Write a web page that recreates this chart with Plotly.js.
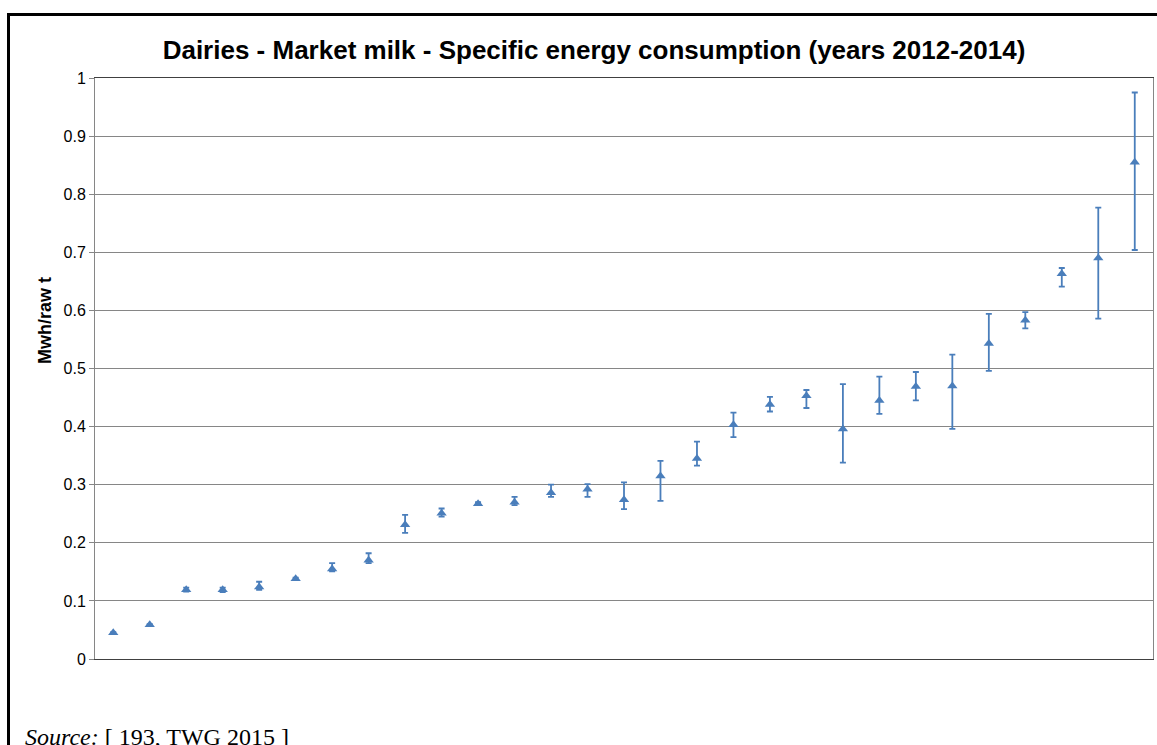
<!DOCTYPE html>
<html>
<head>
<meta charset="utf-8">
<script src="https://cdn.plot.ly/plotly-3.0.1.min.js"></script>
<style>
html,body{margin:0;padding:0;background:#fff;}
#chart{width:1157px;height:745px;}
</style>
</head>
<body>
<div id="chart"></div>
<script>
// Plant index (sorted by value)
var plants = [1,2,3,4,5,6,7,8,9,10,11,12,13,14,15,16,17,18,19,20,21,22,23,24,25,26,27,28,29];
// Mean specific energy consumption (MWh / raw t)
var values = [0.045,0.059,0.119,0.119,0.124,0.138,0.155,0.170,0.231,0.251,0.267,0.270,0.286,0.292,0.274,0.315,0.345,0.403,0.438,0.453,0.396,0.445,0.469,0.470,0.543,0.583,0.663,0.690,0.855];
// Upper end of range (max of 2012-2014)
var upper = [0.046,0.060,0.123,0.123,0.133,0.140,0.165,0.182,0.248,0.259,0.270,0.279,0.300,0.301,0.304,0.341,0.374,0.424,0.451,0.463,0.473,0.486,0.494,0.524,0.594,0.597,0.673,0.777,0.975];
// Lower end of range (min of 2012-2014)
var lower = [0.044,0.058,0.116,0.115,0.119,0.136,0.151,0.165,0.217,0.245,0.265,0.265,0.279,0.279,0.258,0.272,0.333,0.382,0.426,0.432,0.338,0.422,0.445,0.396,0.496,0.569,0.641,0.586,0.704];
var yTicks = [0,0.1,0.2,0.3,0.4,0.5,0.6,0.7,0.8,0.9,1];
var yTickLabels = ['0','0.1','0.2','0.3','0.4','0.5','0.6','0.7','0.8','0.9','1'];

var errPlus = upper.map(function(u,i){return Math.max(0,u-values[i]);});
var errMinus = lower.map(function(l,i){return Math.max(0,values[i]-l);});

var blue = '#4a7ebb';
var trace = {
  x: plants, y: values, type: 'scatter', mode: 'markers',
  marker: {symbol: 'triangle-up', size: 9, color: blue},
  error_y: {type: 'data', symmetric: false, array: errPlus, arrayminus: errMinus,
            color: blue, thickness: 1.8, width: 3},
  hoverinfo: 'y', showlegend: false
};

var W = 1157, H = 745, L = 95, R = 4, T = 78, B = 86;
var pw = W - L - R, ph = H - T - B;
function px(x){return (x - L)/pw;}
function py(y){return (H - B - y)/ph;}

var layout = {
  width: W, height: H,
  margin: {l: L, r: R, t: T, b: B, pad: 0},
  paper_bgcolor: '#ffffff', plot_bgcolor: '#ffffff',
  font: {family: '"Liberation Sans", Arial, sans-serif', color: '#000'},
  title: {text: '<b>Dairies - Market milk - Specific energy consumption (years 2012-2014)</b>',
          font: {family: '"Liberation Sans", Arial, sans-serif', size: 26, color: '#000'},
          xref: 'container', yref: 'container', x: 594/W, y: 1 - 50/H,
          xanchor: 'center', yanchor: 'middle'},
  xaxis: {range: [0.5, 29.5], showticklabels: false, ticks: '', showgrid: false,
          zeroline: false, showline: true, linecolor: '#404040', linewidth: 1, mirror: true,
          fixedrange: true},
  yaxis: {range: [0, 1], tickvals: yTicks, ticktext: yTickLabels,
          tickfont: {size: 16, color: '#000'}, ticks: 'outside', ticklen: 5,
          tickcolor: '#868686', showgrid: true, gridcolor: '#868686', gridwidth: 1,
          zeroline: false, showline: true, linecolor: '#868686', linewidth: 1, mirror: true,
          fixedrange: true},
  annotations: [
    {text: '<b>Mwh/raw t</b>', xref: 'paper', yref: 'paper', x: px(45), y: py(321),
     xanchor: 'center', yanchor: 'middle', textangle: -90, showarrow: false,
     font: {size: 18, color: '#000', family: '"Liberation Sans", Arial, sans-serif'}},
    {text: '<i>Source:</i> [ 193, TWG 2015 ]', xref: 'paper', yref: 'paper',
     x: px(23), y: py(722), xanchor: 'left', yanchor: 'top', showarrow: false,
     font: {size: 24, color: '#000', family: '"Liberation Serif", "Times New Roman", serif'}}
  ],
  shapes: [
    {type: 'rect', xref: 'paper', yref: 'paper', x0: px(8.5), x1: px(1175), y0: py(800), y1: py(14.5),
     line: {color: '#000', width: 3}, fillcolor: 'rgba(0,0,0,0)', layer: 'above'}
  ]
};

Plotly.newPlot('chart', [trace], layout, {displayModeBar: false, staticPlot: true});
</script>
</body>
</html>
